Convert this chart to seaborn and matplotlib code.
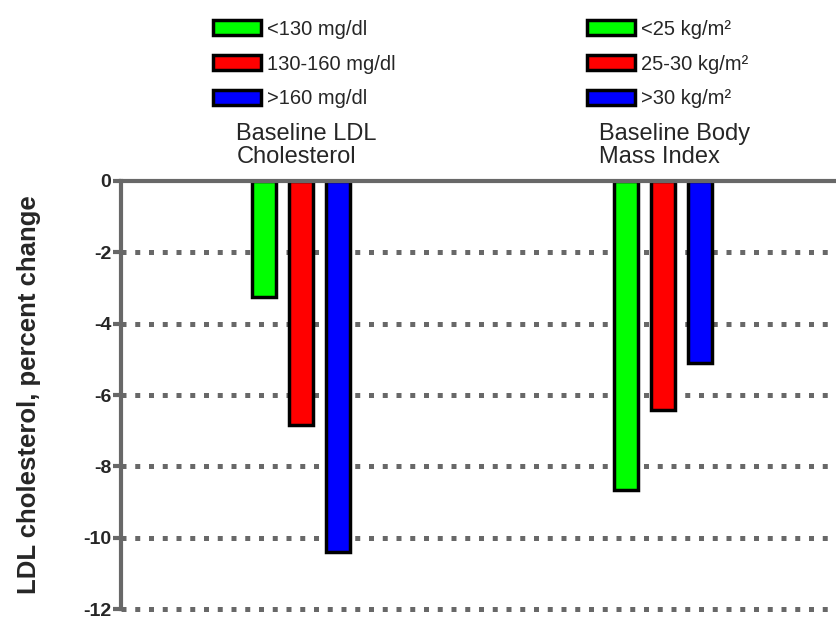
import pandas as pd
import matplotlib
matplotlib.use("Agg")
import matplotlib.pyplot as plt
import matplotlib.transforms as mtransforms
from matplotlib.patches import Patch
import seaborn as sns

# --- data ---
groups = ["Baseline LDL\nCholesterol", "Baseline Body\nMass Index"]
levels = ["low", "mid", "high"]
values = {
    "low": [-3.25, -8.67],
    "mid": [-6.83, -6.42],
    "high": [-10.4, -5.1],
}
ldl_labels = ["<130 mg/dl", "130-160 mg/dl", ">160 mg/dl"]
bmi_labels = ["<25 kg/m²", "25-30 kg/m²", ">30 kg/m²"]
colors = ["#00ff00", "#ff0000", "#0000ff"]
yticks = [0, -2, -4, -6, -8, -10, -12]

rows = []
for lev in levels:
    for g, v in zip(groups, values[lev]):
        rows.append({"group": g, "level": lev, "value": v})
df = pd.DataFrame(rows)

sns.set_style("white")
plt.rcParams["font.family"] = ["Liberation Sans", "DejaVu Sans"]
grey = "#686868"

fig = plt.figure(figsize=(8.36, 6.19), dpi=100)
ax = fig.add_axes([0.1447, 0.016, 0.8553, 0.6916])

sns.barplot(data=df, x="group", y="value", hue="level", order=groups,
            hue_order=levels, palette=colors, width=0.307, gap=0.35,
            edgecolor="black", linewidth=2.5, saturation=1, legend=False,
            ax=ax, zorder=3)

ax.set_xlim(-0.497, 1.478)
ax.set_ylim(-12, 0)
ax.set_yticks(yticks)
ax.set_yticklabels([str(t) for t in yticks], fontsize=14, fontweight="bold")
ax.set_xticks([])
ax.set_xlabel("")
ax.set_ylabel("LDL cholesterol, percent change", fontsize=18.5, fontweight="bold")
ax.yaxis.set_label_coords(-0.112, 0.5)
ax.tick_params(axis="y", direction="out", length=6, width=3, color=grey, pad=1, left=True)

# dotted square-dot gridlines
for t in yticks[1:]:
    ax.axhline(t, color=grey, linewidth=3.6, linestyle=(0, (1, 1.75)),
               dash_capstyle="butt", zorder=1, clip_on=False)
for side in ["right", "bottom"]:
    ax.spines[side].set_visible(False)
for side in ["left", "top"]:
    ax.spines[side].set_color(grey)
    ax.spines[side].set_linewidth(3)
    ax.spines[side].set_zorder(4)

# group captions above each cluster
trans = mtransforms.blended_transform_factory(ax.transData, ax.transAxes)
for i, g in enumerate(groups):
    ax.text(i - 0.178, 1.03, g, transform=trans, ha="left", va="bottom",
            fontsize=17, linespacing=1.07)

# two legends at the top
def make_legend(labels, x):
    handles = [Patch(facecolor=c, edgecolor="black", linewidth=2.5) for c in colors]
    leg = fig.legend(handles, labels, loc="upper left", bbox_to_anchor=(x, 0.968),
                     frameon=False, fontsize=14.5, handlelength=2.4, handleheight=0.75,
                     handletextpad=0.3, labelspacing=0.78, borderpad=0, borderaxespad=0)
    return leg

make_legend(ldl_labels, 0.2548)
make_legend(bmi_labels, 0.702)

fig.savefig("out.png", dpi=100)
